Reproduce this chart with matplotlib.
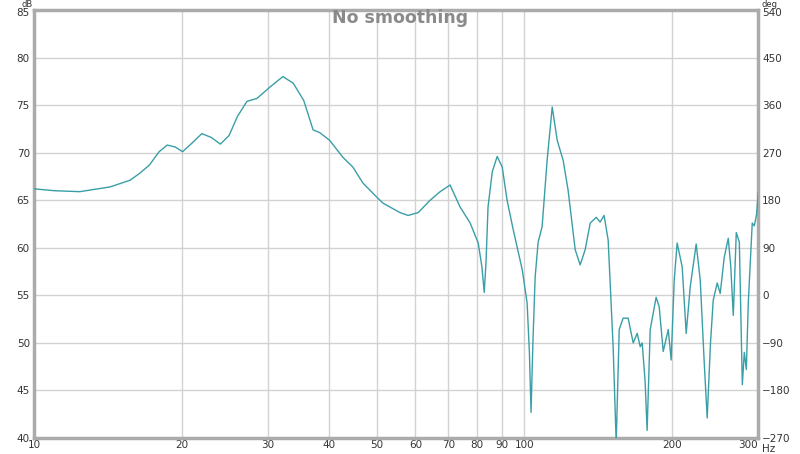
import matplotlib
matplotlib.use("Agg")
import matplotlib.pyplot as plt
import matplotlib.transforms as mtransforms
from matplotlib.ticker import FixedLocator, NullLocator

freq = [10, 11, 12.4, 14.3, 15.7, 16.4, 17.2, 18.0, 18.7, 19.4, 20.1, 21.0, 22.0, 23.0, 24.0,
        25.0, 26.0, 27.2, 28.5, 30.3, 32.2, 33.8, 35.5, 37.1, 38.3, 40.1, 42.7, 44.7, 46.9,
        50.1, 51.5, 55.8, 58.0, 60.8, 64.3, 67.4, 70.6, 74.0, 77.6, 80.6, 82.0, 82.9, 83.6,
        84.4, 86.1, 88.1, 90.2, 92.3, 95.0, 99.1, 101.4, 102.5, 103.3, 104.2, 105.3, 106.8,
        108.8, 111.4, 114.1, 116.8, 120.1, 122.9, 127.1, 130.1, 133.2, 136.4, 140.3, 142.9,
        145.6, 148.4, 151.9, 154.1, 156.3, 159.2, 163.0, 166.9, 170.1, 172.5, 174.1, 176.5,
        178.2, 180.8, 185.9, 188.6, 192.2, 196.8, 199.5, 202.4, 205.2, 210.1, 214.1, 218.2,
        224.4, 228.7, 233.0, 236.3, 240.0, 243.1, 247.7, 251.2, 256.0, 260.9, 264.0, 267.1,
        270.9, 274.8, 278.7, 281.3, 284.0, 286.6, 292.0, 294.8, 298.0, 300.4]
spl = [66.2, 66.0, 65.9, 66.4, 67.1, 67.8, 68.7, 70.1, 70.8, 70.6, 70.1, 71.0, 72.0, 71.6, 70.9,
       71.8, 73.8, 75.4, 75.7, 76.9, 78.0, 77.3, 75.5, 72.4, 72.1, 71.3, 69.5, 68.5, 66.8,
       65.3, 64.7, 63.7, 63.4, 63.7, 65.0, 65.9, 66.6, 64.3, 62.6, 60.5, 58.0, 55.3, 58.5,
       64.3, 68.0, 69.6, 68.5, 65.0, 61.9, 57.7, 54.2, 49.0, 42.7, 50.0, 56.9, 60.6,
       62.2, 69.2, 74.8, 71.3, 69.2, 66.1, 59.8, 58.2, 59.8, 62.6, 63.2, 62.7,
       63.4, 60.8, 49.6, 39.5, 51.4, 52.6, 52.6, 50.0, 51.0, 49.6, 50.0, 46.0,
       40.8, 51.4, 54.8, 53.8, 49.1, 51.4, 48.2, 56.6, 60.5, 58.0, 51.0, 55.9,
       60.4, 56.6, 48.0, 42.1, 50.0, 54.5, 56.3, 55.2, 59.0, 61.0, 58.0, 52.9,
       61.6, 60.6, 45.6, 49.0, 47.2, 54.2, 62.6, 62.3, 63.5, 65.8]

x_ticks = [10, 20, 30, 40, 50, 60, 70, 80, 90, 100, 200, 300]
y_ticks = [40, 45, 50, 55, 60, 65, 70, 75, 80, 85]
deg_ticks = [-270, -180, -90, 0, 90, 180, 270, 360, 450, 540]

fig = plt.figure(figsize=(8, 4.54), dpi=100)
ax = fig.add_axes([34/800, 16/454, 724/800, 428/454])
ax.set_xscale("log")
ax.set_xlim(10, 300)
ax.set_ylim(40, 85)

grid_c = "#d2d2d2"
for xt in x_ticks:
    ax.axvline(xt, color=grid_c, lw=1.0, zorder=0)
for yt in y_ticks:
    ax.axhline(yt, color=grid_c, lw=1.0, zorder=0)

ax.plot(freq, spl, color="#3a9ea6", lw=1.0, zorder=3)

ax.xaxis.set_major_locator(FixedLocator(x_ticks))
ax.xaxis.set_minor_locator(NullLocator())
ax.set_xticklabels([str(v) for v in x_ticks])
ax.set_yticks(y_ticks)
ax.tick_params(axis="both", length=0, labelsize=7.5, colors="#333333", pad=3)
ax.tick_params(axis="x", pad=1.5)
ax.get_xticklabels()[-1].set_ha("right")

for s in ax.spines.values():
    s.set_color("#ababab")
    s.set_linewidth(2.5)

ax2 = ax.twinx()
ax2.set_ylim(-270, 540)
ax2.set_yticks(deg_ticks)
ax2.tick_params(axis="y", length=0, labelsize=7.5, colors="#333333", pad=3)
for s in ax2.spines.values():
    s.set_visible(False)

shift = mtransforms.ScaledTranslation(0, -2.5/100, fig.dpi_scale_trans)
for lab in (ax.get_yticklabels()[-1], ax2.get_yticklabels()[-1]):
    lab.set_transform(lab.get_transform() + shift)

fig.text(22/800, 1 - 0.3/454, "dB", fontsize=6, color="#333333", ha="left", va="top")
fig.text(762/800, 1 - 0.3/454, "deg", fontsize=6, color="#333333", ha="left", va="top")
fig.text(762/800, 1 - 449/454, "Hz", fontsize=7.5, color="#333333", ha="left", va="center")
fig.text(400/800, 1 - 18/454, "No smoothing", fontsize=12.5, color="#8a8a8a",
         fontweight="bold", ha="center", va="center")

fig.savefig("out.png", dpi=100)
